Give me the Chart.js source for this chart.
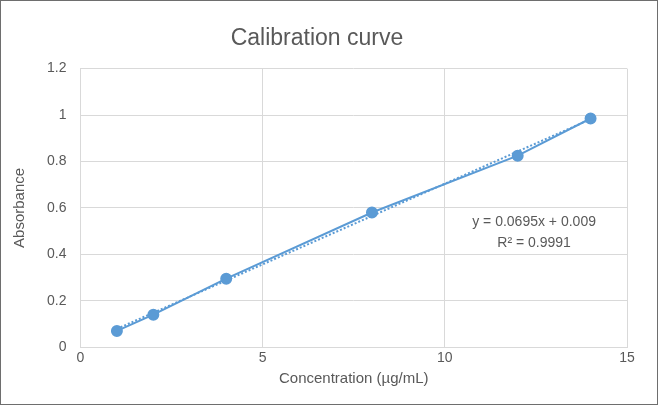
<!DOCTYPE html>
<html>
<head>
<meta charset="utf-8">
<script src="https://cdn.jsdelivr.net/npm/chart.js@4/dist/chart.umd.min.js"></script>
<style>
  html, body { margin: 0; padding: 0; background: #fff; }
  #wrap { width: 656px; height: 403px; border: 1px solid #6e6e6e; }
</style>
</head>
<body>
<div id="wrap"><canvas id="grafico" width="656" height="403"></canvas></div>
<script>
// valores
const concentracoes = [1, 2, 4, 8, 12, 14];
const absorbancias = [0.07, 0.14, 0.295, 0.58, 0.825, 0.985];
const tendenciaX = [1, 14];
const tendenciaY = [0.079, 0.982];
const equacao = ['y = 0.0695x + 0.009', 'R² = 0.9991'];

const azul = '#5b9bd5';

const rotuloEquacao = {
    id: 'rotuloEquacao',
    afterDraw(chart) {
        const ctx = chart.ctx;
        const x = chart.scales.x.getPixelForValue(12.45);
        const y = chart.scales.y.getPixelForValue(0.5);
        ctx.save();
        ctx.fillStyle = '#595959';
        ctx.font = '14px "Liberation Sans", Arial, sans-serif';
        ctx.textAlign = 'center';
        ctx.fillText(equacao[0], x, y - 5);
        ctx.fillText(equacao[1], x, y + 16);
        ctx.restore();
    }
};

new Chart(document.getElementById('grafico'), {
    type: 'scatter',
    data: {
        datasets: [
            {
                label: 'Dados',
                data: concentracoes.map((c, i) => ({ x: c, y: absorbancias[i] })),
                showLine: true,
                borderColor: azul,
                backgroundColor: azul,
                borderWidth: 2,
                pointRadius: 5,
                pointHoverRadius: 5
            },
            {
                label: 'Tendência',
                data: tendenciaX.map((c, i) => ({ x: c, y: tendenciaY[i] })),
                showLine: true,
                borderColor: azul,
                borderWidth: 2,
                borderDash: [2, 2],
                pointRadius: 0
            }
        ]
    },
    options: {
        responsive: false,
        animation: false,
        layout: { padding: { left: 6, right: 30, top: 0, bottom: 12 } },
        plugins: {
            legend: { display: false },
            tooltip: { enabled: false },
            title: {
                display: true,
                text: 'Calibration curve',
                color: '#595959',
                font: { size: 23, family: '"Liberation Sans", Arial, sans-serif', weight: 'normal' },
                padding: { top: 24, bottom: 16 }
            }
        },
        scales: {
            x: {
                min: 0, max: 15,
                ticks: { stepSize: 5, color: '#595959', font: { size: 14 } },
                grid: { color: '#d9d9d9', drawTicks: false },
                border: { color: '#d9d9d9' },
                title: { display: true, text: 'Concentration (µg/mL)', color: '#595959', font: { size: 15 }, padding: { top: 0 } }
            },
            y: {
                min: 0, max: 1.2,
                ticks: { stepSize: 0.2, color: '#595959', font: { size: 14 }, padding: 14,
                    callback: v => Math.round(v * 10) / 10 },
                grid: { color: '#d9d9d9', drawTicks: false },
                border: { display: false },
                title: { display: true, text: 'Absorbance', color: '#595959', font: { size: 15 } }
            }
        }
    },
    plugins: [rotuloEquacao]
});
</script>
</body>
</html>
